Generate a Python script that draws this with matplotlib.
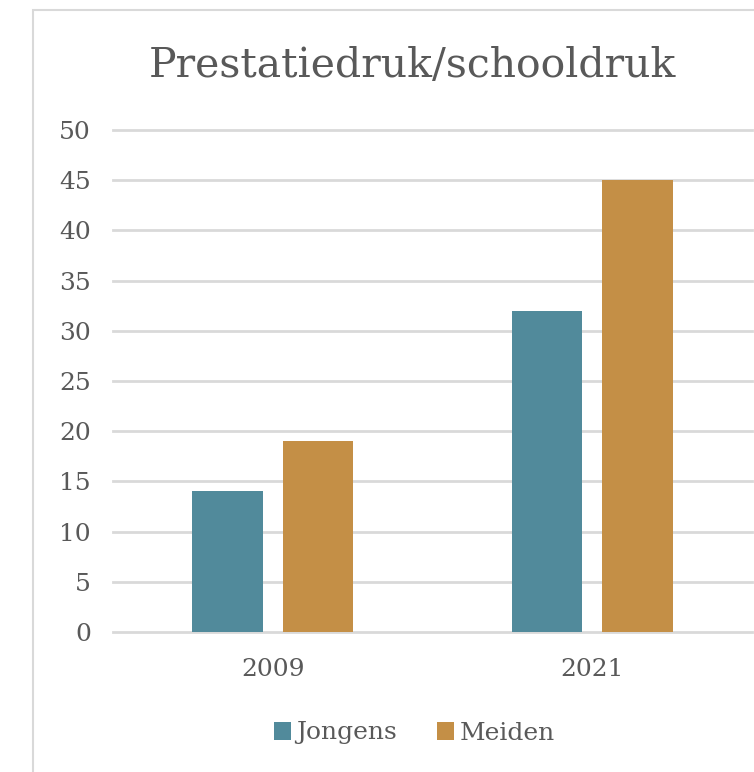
import matplotlib
matplotlib.use("Agg")
import matplotlib.pyplot as plt
from matplotlib.patches import Rectangle, Patch
import numpy as np

categories = ["2009", "2021"]
series_names = ["Jongens", "Meiden"]
jongens = [14, 32]
meiden = [19, 45]
y_ticks = [0, 5, 10, 15, 20, 25, 30, 35, 40, 45, 50]
title = "Prestatiedruk/schooldruk"

colors = ["#518A9B", "#C48F46"]
text_color = "#595959"
grid_color = "#D9D9D9"
font = "DejaVu Serif"

W, H = 754, 772
fig = plt.figure(figsize=(W / 100, H / 100), dpi=100)

# chart frame (left and top border visible)
frame = Rectangle((33 / W, -0.01), 1.0, (762 / H) + 0.01, transform=fig.transFigure,
                  facecolor="white", edgecolor=grid_color, linewidth=1.5, zorder=-10)
fig.patches.append(frame)

ax = fig.add_axes([113 / W, (H - 632) / H, (752 - 113) / W, (632 - 130) / H], zorder=2)
ax.set_facecolor("none")

x = np.arange(len(categories))
width = 0.22
offset = 0.142
ax.bar(x - offset, jongens, width, color=colors[0], label=series_names[0], zorder=3)
ax.bar(x + offset, meiden, width, color=colors[1], label=series_names[1], zorder=3)

ax.set_xlim(-0.5, 1.5)
ax.set_ylim(0, 50)
ax.set_yticks(y_ticks)
ax.set_yticklabels([str(v) for v in y_ticks])
ax.set_xticks(x)
ax.set_xticklabels(categories)
ax.yaxis.grid(True, color=grid_color, linewidth=2, zorder=0)
for gl in ax.get_ygridlines():
    gl.set_clip_on(False)
ax.set_axisbelow(True)
for s in ax.spines.values():
    s.set_visible(False)
ax.tick_params(axis="y", length=0, pad=16, labelsize=18, labelcolor=text_color)
ax.tick_params(axis="x", length=0, pad=19, labelsize=18, labelcolor=text_color)
for lbl in ax.get_xticklabels() + ax.get_yticklabels():
    lbl.set_fontfamily(font)

fig.text(412 / W, (H - 66) / H, title, ha="center", va="center", fontsize=29.5,
         color=text_color, family=font)

handles = [Patch(facecolor=colors[0]), Patch(facecolor=colors[1])]
leg = fig.legend(handles, series_names, loc="center", bbox_to_anchor=(414 / W, (H - 733) / H),
                 ncol=2, frameon=False, handlelength=0.7, handleheight=0.7, handletextpad=0.2,
                 columnspacing=1.6, prop={"family": font, "size": 18})
for t in leg.get_texts():
    t.set_color(text_color)

fig.savefig("out.png", dpi=100, facecolor="white")
